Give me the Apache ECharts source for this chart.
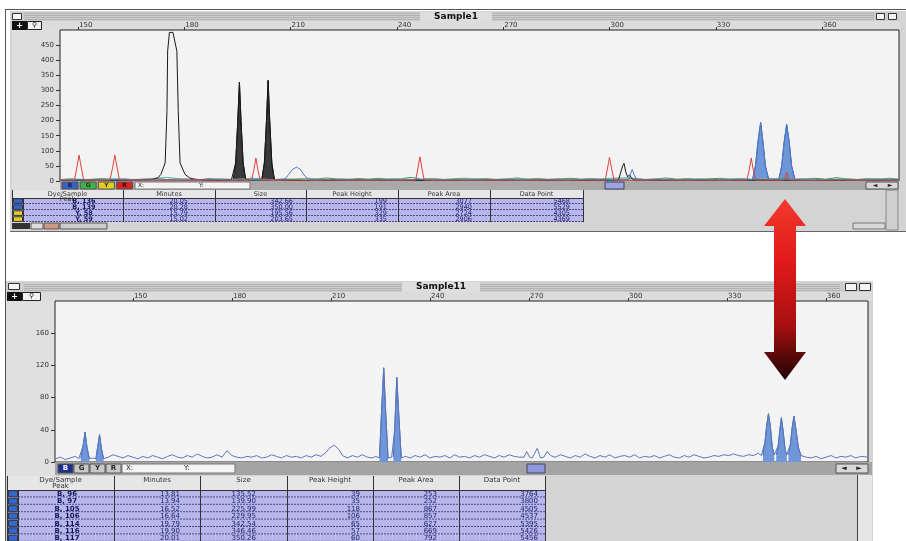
<!DOCTYPE html>
<html><head><meta charset="utf-8">
<script src="https://cdn.jsdelivr.net/npm/echarts@6/dist/echarts.min.js"></script>
<style>html,body{margin:0;padding:0;background:#fff}#c{width:906px;height:541px}</style>
</head><body><div id="c"></div>
<script>
// ---------------- DATA ----------------
const sizeTicks = [150, 180, 210, 240, 270, 300, 330, 360];
const topYTicks = [0, 50, 100, 150, 200, 250, 300, 350, 400, 450];
const bottomYTicks = [0, 40, 80, 120, 160];
const topTitle = 'Sample1';
const bottomTitle = 'Sample11';
const tableHeader = ['Dye/Sample\nPeak', 'Minutes', 'Size', 'Peak Height', 'Peak Area', 'Data Point'];
const topTableRows = [
  ['B, 136', '20.05', '342.66', '199', '3077', '5468'],
  ['B, 139', '20.28', '350.00', '191', '2940', '5529'],
  ['Y, 58', '15.79', '195.56', '329', '2724', '4305'],
  ['Y, 59', '15.02', '203.65', '335', '2906', '4369']
];
const bottomTableRows = [
  ['B, 96', '13.81', '135.52', '39', '253', '3764'],
  ['B, 97', '13.94', '139.90', '35', '252', '3800'],
  ['B, 105', '16.52', '225.99', '118', '867', '4505'],
  ['B, 106', '16.64', '229.95', '106', '857', '4537'],
  ['B, 114', '19.79', '342.54', '65', '627', '5395'],
  ['B, 116', '19.90', '346.46', '57', '669', '5426'],
  ['B, 117', '20.01', '350.26', '60', '792', '5456']
];

// top panel (Sample1) traces: [size, height]
const topGreenNoise = [[145,5],[148,7],[151,4],[154,6],[157,8],[160,5],[163,7],[166,4],[169,6],[172,9],[175,5],[178,7],[181,6],[184,4],[187,8],[190,6],[193,5],[196,7],[199,9],[202,6],[205,4],[208,7],[211,5],[214,8],[217,6],[220,10],[223,7],[226,5],[229,8],[232,6],[235,9],[238,5],[241,7],[244,12],[247,6],[250,8],[253,5],[256,7],[259,9],[262,6],[265,8],[268,5],[271,7],[274,10],[277,6],[280,8],[283,5],[286,7],[289,9],[292,6],[295,8],[298,5],[301,7],[304,6],[307,9],[310,5],[313,7],[316,10],[319,6],[322,8],[325,5],[328,7],[331,9],[334,6],[337,8],[340,5],[343,7],[346,6],[349,8],[352,5],[355,7],[358,9],[361,6],[364,11],[367,7],[370,5],[373,8],[376,6],[379,9],[381.7,6]];
const topTealNoise = [[145,3],[150,6],[155,4],[160,8],[165,5],[170,7],[175,12],[180,6],[185,4],[190,7],[195,5],[200,8],[205,4],[210,6],[215,9],[220,5],[225,7],[230,4],[235,6],[240,8],[245,5],[250,7],[255,4],[260,9],[265,5],[270,6],[275,8],[280,4],[285,7],[290,5],[295,6],[300,9],[305,11],[310,5],[315,7],[320,4],[325,8],[330,5],[335,7],[340,6],[345,9],[350,5],[355,8],[360,4],[365,7],[370,5],[375,8],[381.7,5]];
const topRed = [[145,3],[149,3],[149.6,40],[150.3,86],[151,40],[151.6,3],[159,3],[159.7,40],[160.4,86],[161.1,40],[161.7,3],[199,3],[199.6,35],[200.2,76],[200.8,35],[201.4,3],[245.3,3],[245.9,40],[246.5,80],[247.1,40],[247.7,3],[298.8,3],[299.4,40],[300,78],[300.6,40],[301.3,3],[338.8,3],[339.4,35],[340,76],[340.6,35],[341.3,3],[349.4,3],[350,30],[350.6,3],[381.7,3]];
const topBlackBase = [[145,2],[152,3],[160,2],[166,3],[170.5,4],[186,3],[191,2],[193.3,4],[198,3],[201.3,3],[206,3],[215,2],[230,3],[250,2],[270,3],[290,2],[302,3],[308,3],[320,2],[340,3],[360,2],[381.7,3]];
const topBlackPeak = [[171,6],[172.5,10],[173.4,22],[174.6,60],[175.1,230],[175.3,430],[175.8,492],[176.8,492],[177.9,430],[178.3,230],[178.8,60],[180.2,22],[181.5,10],[183,6]];
const topBlackSmall = [[302.6,6],[303.2,30],[303.7,50],[304.1,58],[304.6,30],[305.1,14],[305.7,20],[306.3,8],[306.9,4]];
const topYellowPeakA = [[193.8,6],[194.5,60],[195.1,200],[195.56,327],[196,200],[196.6,60],[197.3,6]];
const topYellowPeakB = [[201.9,6],[202.6,60],[203.2,200],[203.65,333],[204.1,200],[204.7,60],[205.4,6]];
const topBlueBase = [[145,3],[151,4],[157,3],[163,5],[169,3],[175,4],[181,3],[187,5],[193,3],[199,4],[205,3],[207.5,4],[216,3],[222,5],[228,3],[234,4],[240,3],[246,5],[252,3],[258,4],[264,3],[270,5],[276,3],[282,4],[288,3],[294,5],[300,3],[304.8,4],[308.5,3],[314,5],[320,3],[326,4],[332,3],[336,5],[339.6,4],[346.2,6],[353.2,4],[358,3],[364,5],[370,3],[376,4],[381.7,3]];
const topBlueHump = [[208.5,8],[209.5,22],[210.5,38],[211.7,46],[212.8,38],[213.8,20],[214.8,8]];
const topBlueSmall = [[305.5,6],[306,25],[306.4,38],[306.9,22],[307.6,6]];
const topBluePeakA = [[340.4,6],[341.2,50],[341.9,130],[342.66,194],[343.3,130],[344,50],[344.9,6]];
const topBluePeakB = [[347.8,6],[348.6,50],[349.3,130],[350,188],[350.7,130],[351.4,50],[352.3,6]];

// bottom panel (Sample11) blue trace
const bottomBlueBase = [[126.5,4],[128,6],[129.5,3],[131,5],[132.5,7],[133.6,4],[137.7,5],[142.5,6],[144,9],[145.5,7],[147,5],[148.5,8],[150,6],[151.5,4],[153,7],[154.5,5],[156,8],[157.5,6],[159,4],[160.5,7],[162,9],[163.5,6],[165,5],[166.5,8],[168,6],[169.5,10],[171,7],[172.5,5],[174,6],[175.5,9],[177,6],[178.5,14],[180,8],[181.5,6],[183,5],[184.5,7],[186,6],[187.5,8],[189,5],[190.5,6],[192,9],[193.5,7],[195,5],[196.5,8],[198,6],[199.5,7],[201,5],[202.5,8],[204,6],[205.5,9],[207,7],[208.5,12],[209.5,17],[211,21],[212.5,15],[213.5,8],[215,5],[216.5,8],[218,6],[219.5,9],[221,6],[222.5,5],[223.6,7],[228.4,6],[232.5,7],[234,5],[235.5,8],[237,6],[238.5,9],[240,5],[241.5,7],[243,6],[244.5,8],[246,5],[247.5,9],[249,6],[250.5,7],[252,5],[253.5,8],[255,6],[256.5,9],[258,7],[259.5,5],[261,8],[262.5,6],[264,9],[265.5,7],[267,6],[268.5,6],[269.3,13],[270.2,6],[271,5],[272.5,17],[273.5,5],[274.5,6],[275.5,13],[276.5,8],[278,6],[279.5,9],[281,7],[282.5,5],[284,8],[285.5,6],[287,10],[288.5,7],[290,5],[291.5,8],[293,6],[294.5,9],[296,5],[297.5,7],[299,8],[300.5,6],[302,9],[303.5,5],[305,7],[306.5,6],[308,8],[309.5,5],[311,7],[312.5,9],[314,6],[315.5,5],[317,8],[318.5,6],[320,9],[321.5,7],[323,5],[324.5,6],[326,8],[327.5,7],[329,9],[330.5,8],[332,10],[333.5,8],[335,7],[336.5,9],[338,8],[339.5,11],[340.4,8],[344.6,9],[348.3,9],[352.8,7],[354,6],[355.5,5],[357,7],[358.5,4],[360,6],[361.5,8],[363,5],[364.5,7],[366,6],[367.5,8],[369,5],[370.5,7],[372.7,6]];
const bottomPeaks = [
  [[134.2,5],[134.9,20],[135.52,37],[136.1,18],[136.8,4]],
  [[138.8,4],[139.3,18],[139.9,34],[140.5,16],[141.1,4]],
  [[224.7,5],[225.3,60],[225.99,117],[226.6,60],[227.3,5]],
  [[228.9,6],[229.3,40],[229.95,105],[230.6,55],[231.3,5]],
  [[340.9,8],[341.5,25],[342.0,45],[342.54,60],[343.1,45],[343.7,18],[344.3,9]],
  [[344.9,9],[345.5,20],[346.0,40],[346.46,55],[347.0,38],[347.6,15],[348.1,9]],
  [[348.6,9],[349.2,22],[349.7,42],[350.26,57],[350.9,40],[351.6,18],[352.4,8]]
];

// ---------------- CHART ----------------
const byX = (a, b) => a[0] - b[0];
const chart = echarts.init(document.getElementById('c'), null, { renderer: 'canvas' });
const FONT = '"DejaVu Sans", "Liberation Sans", sans-serif';
const G = [];
function rect(x, y, w, h, fill, stroke, z, lw) {
  G.push({ type: 'rect', silent: true, z: z == null ? 1 : z, shape: { x: x, y: y, width: w, height: h },
    style: { fill: fill || 'none', stroke: stroke || null, lineWidth: lw || 1 } });
}
function ln(x1, y1, x2, y2, stroke, lw, z, dash) {
  G.push({ type: 'line', silent: true, z: z == null ? 2 : z, shape: { x1: x1, y1: y1, x2: x2, y2: y2 },
    style: { stroke: stroke, lineWidth: lw || 1, lineDash: dash || null } });
}
function txt(x, y, t, o) {
  o = o || {};
  G.push({ type: 'text', silent: true, z: o.z == null ? 3 : o.z, x: x, y: y,
    style: { text: t, fill: o.fill || '#222', font: (o.weight || 'normal') + ' ' + (o.size || 7) + 'px ' + FONT,
      textAlign: o.align || 'left', align: o.align || 'left', textVerticalAlign: 'middle', verticalAlign: 'middle', lineHeight: o.lh || null } });
}

// outer frame
ln(5, 9.5, 906, 9.5, '#555', 1, 5);
ln(5.5, 9, 5.5, 541, '#555', 1, 5);

// ===== TOP WINDOW =====
rect(10, 11, 896, 221, '#d4d4d4', null, -100);
// title bar
rect(11, 12, 888, 9, '#cdcdcd', null, -50);
[13.5, 15.5, 17.5, 19.5].forEach(y => ln(24, y, 874, y, '#b2b2b2', 1, -40));
rect(420, 12, 72, 9, '#dedede', null, -30);
txt(456, 16.5, topTitle, { weight: 'bold', size: 9, align: 'center', fill: '#111' });
rect(12.5, 13.5, 9, 6, '#f4f4f4', '#333', 3);
rect(876.5, 13.5, 8, 6, '#f4f4f4', '#333', 3);
rect(888.5, 13.5, 8, 6, '#f4f4f4', '#333', 3);
// tool buttons
rect(12, 21, 15, 9, '#111', null, 3);
txt(19.5, 25.5, '+', { fill: '#fff', size: 8, align: 'center', weight: 'bold' });
rect(27.5, 21.5, 14, 8, '#f2f2f2', '#222', 3);
txt(34.5, 25.5, '⚲', { size: 7, align: 'center' });
// axis row & y label column
rect(42, 21, 858, 9, '#dcdcdc', null, -50);
rect(12, 30, 48, 160, '#dedede', null, -50);
// dye toolbar
rect(60, 181, 839, 9, '#a9a9a9', null, 1);
const topBtns = [['B', '#3464c4', '#0b1f66'], ['G', '#3fb04a', '#0d3b10'], ['Y', '#e3cf1e', '#3a3300'], ['R', '#d42424', '#3a0000']];
topBtns.forEach((b, i) => {
  const x = 62 + i * 18.2;
  rect(x, 182, 16, 7, b[1], '#555', 3);
  txt(x + 8, 185.5, b[0], { size: 6, align: 'center', weight: 'bold', fill: b[2] });
});
rect(135, 182, 115, 7, '#f4f4f4', '#777', 3);
txt(138, 185.5, 'X:', { size: 6 });
txt(199, 185.5, 'Y:', { size: 6 });
rect(605, 182, 19, 7, '#9ca3df', '#445', 3);
rect(866, 182, 32, 7, '#d8d8d8', '#555', 3);
txt(875, 185.5, '◄', { size: 6, align: 'center' });
txt(890, 185.5, '►', { size: 6, align: 'center' });
// lower status row
rect(12, 223, 18, 6, '#333', null, 3);
rect(31, 223, 12, 6, '#ddd', '#555', 3);
rect(44, 223, 15, 6, '#c98', '#555', 3);
rect(60, 223, 47, 6, '#ccc', '#555', 3);
rect(886, 190, 12, 40, '#cfcfcf', '#888', 3);
rect(853, 223, 32, 6, '#d8d8d8', '#777', 3);
ln(10, 231.5, 906, 231.5, '#666', 1, 3);

// ===== BOTTOM WINDOW =====
rect(6, 281, 867, 260, '#d4d4d4', null, -100);
rect(6, 282, 866, 10, '#cdcdcd', null, -50);
[284.5, 286.5, 288.5, 290.5].forEach(y => ln(24, y, 840, y, '#b2b2b2', 1, -40));
rect(402, 282, 78, 10, '#dedede', null, -30);
txt(441, 287, bottomTitle, { weight: 'bold', size: 9, align: 'center', fill: '#111' });
rect(8.5, 283.5, 11, 6, '#f4f4f4', '#333', 3);
rect(845.5, 283.5, 11, 7, '#f4f4f4', '#333', 3);
rect(859.5, 283.5, 11, 7, '#f4f4f4', '#333', 3);
rect(7, 292, 15, 9, '#111', null, 3);
txt(14.5, 296.5, '+', { fill: '#fff', size: 8, align: 'center', weight: 'bold' });
rect(22.5, 292.5, 18, 8, '#f2f2f2', '#222', 3);
txt(31.5, 296.5, '⚲', { size: 7, align: 'center' });
rect(41, 292, 831, 9, '#dcdcdc', null, -50);
rect(6, 301, 49, 175, '#e0e0e0', null, -50);
rect(55, 462, 817, 13, '#a4a4a4', null, 1);
const botBtns = [['B', '#1b2f8c', '#fff'], ['G', '#c8c8c8', '#222'], ['Y', '#c8c8c8', '#222'], ['R', '#c8c8c8', '#222']];
botBtns.forEach((b, i) => {
  const x = 58 + i * 16;
  rect(x, 464, 15, 9, b[1], '#555', 3);
  txt(x + 7.5, 468.5, b[0], { size: 7, align: 'center', weight: 'bold', fill: b[2] });
});
rect(122, 464, 113, 9, '#f4f4f4', '#777', 3);
txt(126, 468.5, 'X:', { size: 7 });
txt(184, 468.5, 'Y:', { size: 7 });
rect(527, 464, 18, 9, '#8e96dc', '#445', 3);
rect(836, 464, 32, 9, '#d8d8d8', '#555', 3);
txt(844, 468.5, '◄', { size: 7, align: 'center' });
txt(859, 468.5, '►', { size: 7, align: 'center' });
ln(857.5, 475, 857.5, 541, '#444', 1, 3);
rect(858, 475, 14, 66, '#e6e6e6', null, 2);

// ===== TABLES =====
function buildTable(rows, cols, anchors, top, headH, rowH, fs, firstCx, iconOf, twoLineHead) {
  const x0 = cols[0], x1 = cols[cols.length - 1];
  rect(x0, top, x1 - x0, headH, '#e6e6e6', null, 2);
  rect(x0, top + headH, x1 - x0, rows.length * rowH, '#b7b7ec', null, 2);
  tableHeader.forEach((h, i) => {
    const cx = (cols[i] + cols[i + 1]) / 2;
    const parts = h.split('\n');
    if (parts.length > 1) {
      txt(cx, top + fs * 0.6, parts[0], { size: fs, align: 'center', fill: '#333', z: 5 });
      txt(cx, top + fs * 1.5, parts[1], { size: fs, align: 'center', fill: '#333', z: 5 });
    } else {
      txt(cx, top + (twoLineHead ? fs * 0.6 : headH / 2), h, { size: fs, align: 'center', fill: '#333' });
    }
  });
  rows.forEach((r, j) => {
    const y = top + headH + j * rowH;
    rect(x0 + 1.5, y + 0.8, 9, rowH - 1.4, iconOf(r), '#334', 4);
    txt(firstCx, y + rowH / 2 + 0.5, r[0], { size: fs, align: 'center', weight: 'bold', fill: '#14145a', z: 4 });
    for (let k = 1; k < r.length; k++) {
      txt(anchors[k], y + rowH / 2 + 0.5, r[k], { size: fs, align: 'right', fill: '#1c1c66', z: 4 });
    }
    ln(x0 + 11, y + rowH - 0.5, x1, y + rowH - 0.5, '#4a4a8a', 1, 3, [2, 1]);
  });
  ln(x0, top + headH + 0.5, x1, top + headH + 0.5, '#333', 1, 3);
  cols.forEach(c => ln(c + 0.5, top, c + 0.5, top + headH + rows.length * rowH, '#333', 1, 3));
  ln(x0 + 11.5, top + headH, x0 + 11.5, top + headH + rows.length * rowH, '#333', 1, 3);
}
buildTable(topTableRows, [12, 123, 215, 306, 398, 490, 583], [0, 188, 293, 387, 472, 570], 190, 8, 6, 6.5, 84,
  r => r[0][0] === 'B' ? '#3566c8' : '#e8cc1a', false);
buildTable(bottomTableRows, [7, 114, 200, 287, 373, 459, 545], [0, 180, 256, 360, 437, 538], 476, 14, 7.4, 7, 67,
  r => '#3566c8', true);

// ===== ARROW =====
G.push({ type: 'polygon', silent: true, z: 200,
  shape: { points: [[785, 199], [806, 226], [796, 226], [796, 352], [806, 352], [785, 380], [764, 352], [774, 352], [774, 226], [764, 226]] },
  style: { fill: { type: 'linear', x: 0, y: 0, x2: 0, y2: 1, colorStops: [
    { offset: 0, color: '#f23a2c' }, { offset: 0.35, color: '#e01a1a' }, { offset: 0.7, color: '#a81010' }, { offset: 1, color: '#1e0202' }] } } });

// ===== SERIES =====
function lineS(data, color, axis, w) {
  return { type: 'line', xAxisIndex: axis, yAxisIndex: axis, data: data, symbol: 'none', silent: true,
    lineStyle: { color: color, width: w || 1 }, z: 3 };
}
function fillS(data, fill, stroke, axis) {
  return { type: 'line', xAxisIndex: axis, yAxisIndex: axis, data: data, symbol: 'none', silent: true,
    lineStyle: { color: stroke, width: 1 }, areaStyle: { color: fill, opacity: 1 }, z: 2 };
}
const series = [
  fillS(topYellowPeakA, '#3a3a3a', '#111', 0),
  fillS(topYellowPeakB, '#3a3a3a', '#111', 0),
  fillS(topBluePeakA, '#6f96d8', '#3f62ad', 0),
  fillS(topBluePeakB, '#6f96d8', '#3f62ad', 0),
  lineS(topGreenNoise, '#2f9e50', 0),
  lineS(topTealNoise, '#5ab8b0', 0),
  lineS(topBlackBase.concat(topBlackPeak, topBlackSmall, topYellowPeakA, topYellowPeakB).sort(byX), '#1a1a1a', 0),
  lineS(topBlueBase.concat(topBlueHump, topBlueSmall, topBluePeakA, topBluePeakB).sort(byX), '#4f78c8', 0),
  lineS(topRed, '#e0403a', 0)
];
bottomPeaks.forEach(p => series.push(fillS(p, '#6f96d8', '#4a6cb8', 1)));
let bottomAll = bottomBlueBase.slice();
bottomPeaks.forEach(p => { bottomAll = bottomAll.concat(p); });
series.push(lineS(bottomAll.sort(byX), '#5a78bd', 1));

function xAx(idx, min, max) {
  return { type: 'value', gridIndex: idx, position: 'top', min: min, max: max,
    axisLine: { show: false, onZero: false }, splitLine: { show: false },
    axisTick: { show: true, customValues: sizeTicks, length: 3, lineStyle: { color: '#333' } },
    axisLabel: { customValues: sizeTicks, fontSize: 7, color: '#333', fontFamily: FONT, align: 'left', margin: 1, padding: [0, 0, 0, 1] } };
}
function yAx(idx, max, ticks) {
  return { type: 'value', gridIndex: idx, min: 0, max: max,
    axisLine: { show: false, onZero: false }, splitLine: { show: false },
    axisTick: { show: true, customValues: ticks, length: 4, lineStyle: { color: '#333' } },
    axisLabel: { customValues: ticks, fontSize: 7, color: '#333', fontFamily: FONT, margin: 6 } };
}

chart.setOption({
  animation: false,
  backgroundColor: '#ffffff',
  grid: [
    { left: 60, top: 30, width: 839, height: 151, show: true, backgroundColor: '#f3f3f3', borderColor: '#222', borderWidth: 1, containLabel: false },
    { left: 55, top: 301, width: 813, height: 161, show: true, backgroundColor: '#f4f4f4', borderColor: '#222', borderWidth: 1, containLabel: false }
  ],
  xAxis: [xAx(0, 144.92, 381.7), xAx(1, 126.4, 372.7)],
  yAxis: [yAx(0, 500, topYTicks), yAx(1, 200, bottomYTicks)],
  series: series,
  graphic: { elements: G }
});
</script>
</body></html>
